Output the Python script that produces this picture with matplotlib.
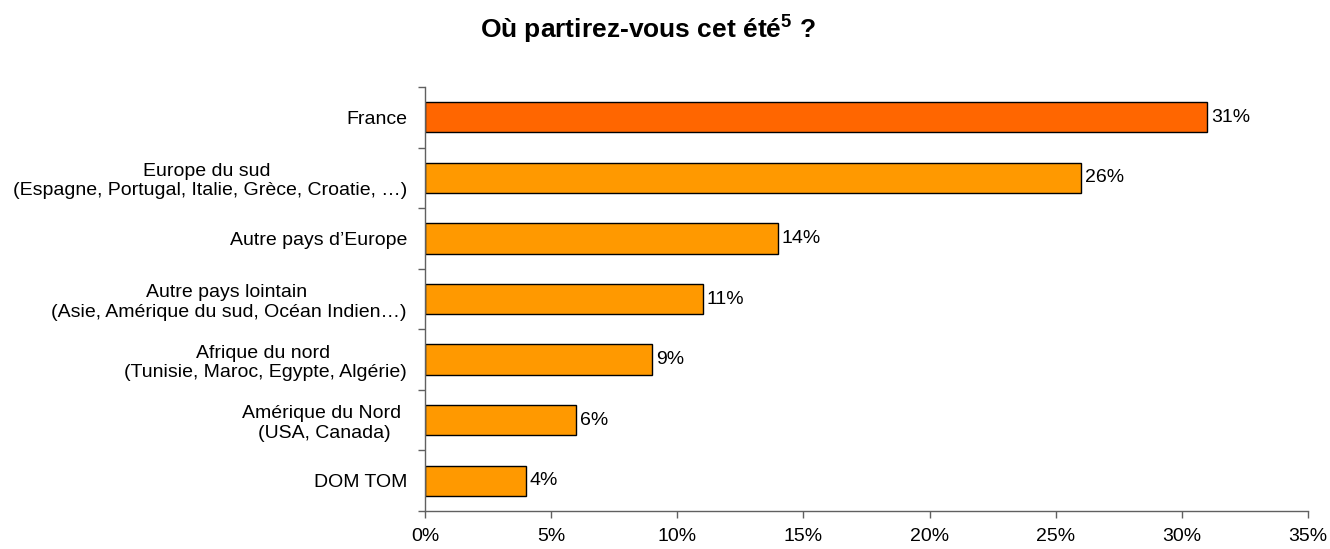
import matplotlib
matplotlib.use("Agg")
import matplotlib.pyplot as plt
import numpy as np

categories = [
    "France",
    "Europe du sud \n(Espagne, Portugal, Italie, Grèce, Croatie, …)",
    "Autre pays d’Europe",
    "Autre pays lointain \n(Asie, Amérique du sud, Océan Indien…)",
    "Afrique du nord \n(Tunisie, Maroc, Egypte, Algérie)",
    "Amérique du Nord \n(USA, Canada)",
    "DOM TOM",
]
values = [31, 26, 14, 11, 9, 6, 4]
bar_colors = ["#FF6600", "#FF9900", "#FF9900", "#FF9900", "#FF9900", "#FF9900", "#FF9900"]
xticks = [0, 5, 10, 15, 20, 25, 30, 35]
xtick_labels = ["0%", "5%", "10%", "15%", "20%", "25%", "30%", "35%"]
title = r"Où partirez-vous cet été$^{\mathbf{5}}$ ?"

plt.rcParams['font.family'] = ['Liberation Sans', 'DejaVu Sans']
plt.rcParams['mathtext.fontset'] = 'custom'
plt.rcParams['mathtext.rm'] = 'Liberation Sans'
plt.rcParams['mathtext.bf'] = 'Liberation Sans:bold'

fig = plt.figure(figsize=(13.3, 5.49), dpi=100)
ax = fig.add_axes([425/1330, 1 - 511/549, (1308 - 425)/1330, (511 - 87)/549])

n = len(categories)
y = np.arange(n)
ax.barh(y, values, height=0.5, color=bar_colors, edgecolor="black", linewidth=1)
ax.set_ylim(n - 0.5, -0.5)
ax.set_xlim(0, 35)

for yi, v in zip(y, values):
    ax.text(v + 0.15, yi, f"{v}%", va="center", ha="left", fontsize=14)

ax.set_yticks(y)
ax.set_yticklabels(categories, fontsize=14, multialignment="center", linespacing=1.2)
ax.tick_params(axis="y", which="major", length=0, pad=13)
ax.set_yticks(np.arange(n + 1) - 0.5, minor=True)
ax.tick_params(axis="y", which="minor", length=5, color="#606060", width=1)

ax.set_xticks(xticks)
ax.set_xticklabels(xtick_labels, fontsize=14)
ax.tick_params(axis="x", length=5, color="#606060", width=1, pad=7)

for s in ["top", "right"]:
    ax.spines[s].set_visible(False)
for s in ["left", "bottom"]:
    ax.spines[s].set_color("#606060")
    ax.spines[s].set_linewidth(1)

fig.text(648/1330, 1 - 38/549, title, ha="center", va="baseline", fontsize=19, fontweight="bold")

fig.savefig("out.png", dpi=100)
